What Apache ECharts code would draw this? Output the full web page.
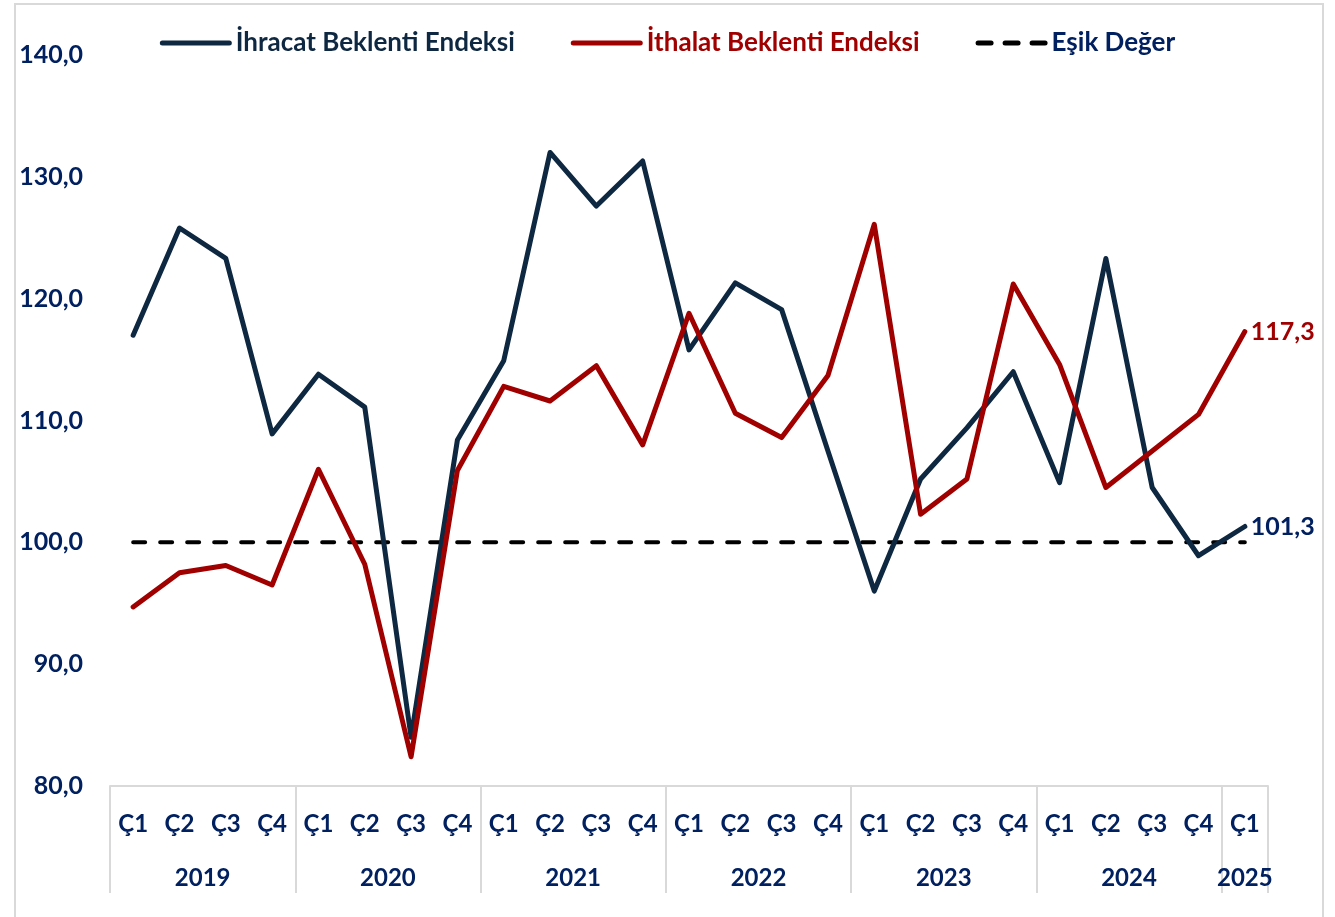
<!DOCTYPE html>
<html>
<head>
<meta charset="utf-8">
<script src="https://cdn.jsdelivr.net/npm/echarts@6/dist/echarts.min.js"></script>
<style>
  html, body { margin: 0; padding: 0; background: #ffffff; }
  #chart { width: 1335px; height: 917px; }
</style>
</head>
<body>
<div id="chart"></div>
<script>
// Quarter labels (2019 Ç1 … 2025 Ç1)
const quarters = [
  'Ç1','Ç2','Ç3','Ç4', 'Ç1','Ç2','Ç3','Ç4', 'Ç1','Ç2','Ç3','Ç4',
  'Ç1','Ç2','Ç3','Ç4', 'Ç1','Ç2','Ç3','Ç4', 'Ç1','Ç2','Ç3','Ç4', 'Ç1'
];
// Year group labels and their centre position (in quarter units)
const years = ['2019', '2020', '2021', '2022', '2023', '2024', '2025'];
const yearCenters = [2, 6, 10, 14, 18, 22, 24.5];

// Export expectation index
const ihracat = [
  117.0, 125.8, 123.3, 108.9,
  113.8, 111.1, 84.0, 108.4,
  114.9, 132.0, 127.6, 131.3,
  115.8, 121.3, 119.1, 107.5,
  96.0, 105.2, 109.4, 114.0,
  104.9, 123.3, 104.5, 98.9,
  101.3
];
// Import expectation index
const ithalat = [
  94.7, 97.5, 98.1, 96.5,
  106.0, 98.2, 82.4, 105.9,
  112.8, 111.6, 114.5, 108.0,
  118.8, 110.6, 108.6, 113.7,
  126.1, 102.3, 105.2, 121.2,
  114.6, 104.5, 107.5, 110.5,
  117.3
];
// Threshold value
const esikDeger = [
  100, 100, 100, 100, 100, 100, 100, 100, 100, 100, 100, 100, 100,
  100, 100, 100, 100, 100, 100, 100, 100, 100, 100, 100, 100
];
// Y axis ticks
const yMin = 80, yMax = 140, yStep = 10;

const FONT = 'Lato';
const NAVY = '#0E2841';
const RED = '#A00000';
const TEXT_BLUE = '#002060';
const AXIS_GRAY = '#D9D9D9';

const fmt = v => Number(v).toFixed(1).replace('.', ',');

// legend glyphs: a solid bar and three dashes
const SOLID_ICON = 'path://M2.5,0H69.5A2.5,2.5,0,0,1,69.5,5H2.5A2.5,2.5,0,0,1,2.5,0Z';
const DASH_ICON = 'path://M2.5,0H15.5A2.5,2.5,0,0,1,15.5,5H2.5A2.5,2.5,0,0,1,2.5,0Z' +
  'M29.5,0H42.5A2.5,2.5,0,0,1,42.5,5H29.5A2.5,2.5,0,0,1,29.5,0Z' +
  'M56.5,0H69.5A2.5,2.5,0,0,1,69.5,5H56.5A2.5,2.5,0,0,1,56.5,0Z';

const chart = echarts.init(document.getElementById('chart'), null, { renderer: 'canvas' });

chart.setOption({
  backgroundColor: '#ffffff',
  animation: false,
  textStyle: { fontFamily: FONT },
  graphic: [{
    type: 'rect',
    shape: { x: 15, y: 4, width: 1308, height: 930 },
    style: { fill: 'none', stroke: AXIS_GRAY, lineWidth: 2 },
    silent: true,
    z: -1
  }],
  legend: {
    top: 25,
    left: 'center',
    itemWidth: 72,
    itemHeight: 5,
    itemGap: 56,
    textStyle: { fontFamily: FONT, fontWeight: 'bold', fontSize: 26, padding: [0, 0, 0, -1] },
    data: [
      { name: 'İhracat Beklenti Endeksi', icon: SOLID_ICON, textStyle: { color: NAVY } },
      { name: 'İthalat Beklenti Endeksi', icon: SOLID_ICON, textStyle: { color: RED } },
      { name: 'Eşik Değer', icon: DASH_ICON, textStyle: { color: TEXT_BLUE } }
    ]
  },
  grid: { left: 110, right: 67, top: 55, bottom: 131, containLabel: false },
  xAxis: [
    {
      type: 'category',
      data: quarters,
      boundaryGap: true,
      position: 'bottom',
      axisLine: { show: true, lineStyle: { color: AXIS_GRAY, width: 2 } },
      axisTick: { show: false },
      splitLine: { show: false },
      axisLabel: {
        interval: 0,
        margin: 26,
        color: TEXT_BLUE,
        fontFamily: FONT,
        fontWeight: 'bold',
        fontSize: 24
      }
    },
    {
      // year group separators
      type: 'value',
      min: 0,
      max: quarters.length,
      interval: 4,
      position: 'bottom',
      axisLine: { show: false },
      axisTick: { show: true, length: 107, lineStyle: { color: AXIS_GRAY, width: 2 } },
      axisLabel: { show: false },
      splitLine: { show: false }
    },
    {
      // year group labels
      type: 'value',
      min: 0,
      max: quarters.length,
      interval: 0.5,
      position: 'bottom',
      axisLine: { show: false },
      axisTick: { show: false },
      splitLine: { show: false },
      axisLabel: {
        margin: 80,
        color: TEXT_BLUE,
        fontFamily: FONT,
        fontWeight: 'bold',
        fontSize: 24,
        showMinLabel: true,
        showMaxLabel: true,
        formatter: v => {
          const i = yearCenters.findIndex(c => Math.abs(c - v) < 1e-6);
          return i >= 0 ? years[i] : '';
        }
      }
    }
  ],
  yAxis: {
    type: 'value',
    min: yMin,
    max: yMax,
    interval: yStep,
    axisLine: { show: false },
    axisTick: { show: false },
    splitLine: { show: false },
    axisLabel: {
      margin: 27,
      color: TEXT_BLUE,
      fontFamily: FONT,
      fontWeight: 'bold',
      fontSize: 25,
      formatter: v => fmt(v)
    }
  },
  series: [
    {
      name: 'İhracat Beklenti Endeksi',
      type: 'line',
      xAxisIndex: 0,
      data: ihracat,
      symbol: 'none',
      z: 3,
      lineStyle: { color: NAVY, width: 5, cap: 'round', join: 'round' },
      itemStyle: { color: NAVY },
      endLabel: {
        show: true,
        distance: 6,
        color: TEXT_BLUE,
        fontFamily: FONT,
        fontWeight: 'bold',
        fontSize: 25,
        formatter: p => fmt(p.value)
      }
    },
    {
      name: 'İthalat Beklenti Endeksi',
      type: 'line',
      xAxisIndex: 0,
      data: ithalat,
      symbol: 'none',
      z: 4,
      lineStyle: { color: RED, width: 5, cap: 'round', join: 'round' },
      itemStyle: { color: RED },
      endLabel: {
        show: true,
        distance: 6,
        color: RED,
        fontFamily: FONT,
        fontWeight: 'bold',
        fontSize: 25,
        formatter: p => fmt(p.value)
      }
    },
    {
      name: 'Eşik Değer',
      type: 'line',
      xAxisIndex: 0,
      data: esikDeger,
      symbol: 'none',
      z: 2,
      lineStyle: { color: '#000000', width: 4, type: [12, 15], cap: 'round' },
      itemStyle: { color: '#000000' }
    }
  ]
});
</script>
</body>
</html>
